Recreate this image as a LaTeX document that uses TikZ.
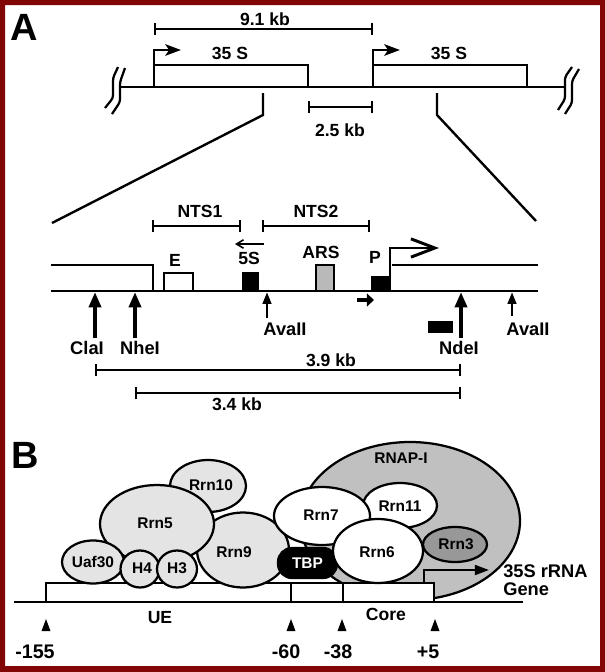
\documentclass[tikz,border=0pt]{standalone}
\usepackage{fontspec}
\setmainfont{Liberation Sans}
\usetikzlibrary{arrows.meta}
\definecolor{framered}{RGB}{130,6,6}
\definecolor{protlight}{RGB}{228,228,228}
\definecolor{polgray}{RGB}{192,192,192}
\definecolor{rrnthree}{RGB}{152,152,152}
\definecolor{arsgray}{RGB}{185,185,185}
\newdimen\pxu \pxu=0.025cm

\begin{document}
\begin{tikzpicture}[x=0.025cm,y=-0.025cm,
  gene/.style={line width=2.1pt},
  kbbar/.style={line width=1.6pt,{Bar[width=9pt]}-{Bar[width=9pt]}},
  lbl/.style={font=\bfseries\fontsize{12.5}{14}\selectfont,inner sep=0pt},
  sitelbl/.style={font=\bfseries\fontsize{13}{15}\selectfont,inner sep=0pt},
  bigsite/.style={line width=3pt,-{Triangle[length=11pt,width=8.5pt]}},
  smallsite/.style={line width=2pt,-{Triangle[length=8.5pt,width=6pt]}},
  prot/.style={draw,line width=1.6pt},
  plbl/.style={font=\bfseries\fontsize{11}{13}\selectfont,inner sep=0pt},
  poslbl/.style={font=\bfseries\fontsize{14}{16}\selectfont,inner sep=0pt},
  panel/.style={font=\bfseries\fontsize{27}{27}\selectfont,inner sep=0pt}]
\useasboundingbox (0,0) rectangle (605,672);
\fill[white] (0,0) rectangle (605,672);
% Frame
\fill[framered,even odd rule] (0,0) rectangle (605,672) (5,5) rectangle (600,666);

% ---- Panel A, rDNA repeats ----
\node[panel] (panA) at (24,27) {A};
\draw[kbbar] (154,29) -- (373,29);
\node[lbl] (ninekb) at (265,19) {9.1 kb};

\draw[gene] (120,87) -- (565,87);
\draw[gene] (154,87) -- (154,65) -- (308,65) -- (308,87);
\draw[gene] (373,87) -- (373,65) -- (527,65) -- (527,87);
\draw[gene,-{Stealth[length=11pt,width=8pt,inset=2.5pt]}] (154,65) -- (154,50) -- (181,50);
\draw[gene,-{Stealth[length=11pt,width=8pt,inset=2.5pt]}] (373,65) -- (373,50) -- (400,50);
\node[lbl] (tsa) at (230,53) {35 S};
\node[lbl] (tsb) at (449,53) {35 S};

% break marks
\begin{scope}[line width=1.6pt,rounded corners=2pt]
  \draw (105,108) -- (113,98) -- (113,78) -- (118,67);
  \draw (112,114) -- (120,102) -- (120,82) -- (125,68);
  \draw (558,110) -- (565,99) -- (565,77) -- (572,67);
  \draw (565,114) -- (572,103) -- (572,81) -- (579,69);
\end{scope}

\draw[kbbar] (308,107) -- (373,107);
\node[lbl] (twokb) at (340,130) {2.5 kb};

% zoom lines
\draw[line width=1.7pt] (263,93) -- (263,115) -- (52,223);
\draw[line width=1.7pt] (437,93) -- (437,115) -- (536,221);

% ---- Panel A, NTS map ----
\draw[kbbar] (152,226) -- (241,226);
\draw[kbbar] (262,226) -- (370,226);
\node[lbl] (ntsa) at (200,211) {NTS1};
\node[lbl] (ntsb) at (316,211) {NTS2};

\draw[gene] (51,265) -- (153,265) -- (153,291);
\draw[gene] (51,291) -- (538,291);
\draw[gene] (392,265) -- (538,265);
\draw[gene,-{Straight Barb[length=17pt,width=13pt]}] (390,291) -- (390,248) -- (439,248);

\draw[gene,fill=white] (164,291) rectangle (193,273);
\draw[gene,fill=black] (243,291) rectangle (258,273);
\draw[gene,fill=arsgray] (316,291) rectangle (334,265);
\draw[gene,fill=black] (372,291) rectangle (390,277);
\node[lbl] (elbl) at (175,260) {E};
\node[lbl] (fives) at (249,258) {5S};
\node[lbl] (ars) at (321,252) {ARS};
\node[lbl] (plbl) at (375,257) {P};
\draw[line width=1.1pt,-{Straight Barb[length=5pt,width=6pt]}] (264,244) -- (235,244);
\draw[line width=3.5pt,-{Triangle[length=5pt,width=9pt]}] (357,300) -- (374,300);

% restriction sites
\draw[bigsite] (95,338) -- (95,292);
\draw[bigsite] (135,338) -- (135,292);
\draw[smallsite] (267,318) -- (267,292);
\draw[bigsite] (461,338) -- (461,292);
\draw[smallsite] (512,316) -- (512,292);
\node[sitelbl] (cla) at (87,348) {ClaI};
\node[sitelbl] (nhe) at (140,348) {NheI};
\node[sitelbl] (avaa) at (285,329) {AvaII};
\node[sitelbl] (nde) at (459,348) {NdeI};
\node[sitelbl] (avab) at (528,329) {AvaII};
\fill (428,321) rectangle (453,333);

\draw[kbbar] (95,370) -- (461,370);
\draw[kbbar] (135,393) -- (461,393);
\node[lbl] (threenine) at (331,360) {3.9 kb};
\node[lbl] (threefour) at (237,404) {3.4 kb};

% ---- Panel B, promoter complex ----
\node[panel] (panB) at (25,455) {B};
\draw[prot,fill=polgray] (410,521) ellipse (110 and 79);
\node[plbl] (rnap) at (401,458) {RNAP-I};

\draw[gene,fill=white] (46,602) rectangle (291,583);
\draw[gene,fill=white] (291,602) rectangle (343,583);
\draw[gene,fill=white] (343,602) rectangle (434,583);
\draw[line width=1.8pt] (14,602) -- (523,602);

\draw[prot,fill=protlight] (208,486) ellipse (38 and 26);
\draw[prot,fill=protlight] (243,550) ellipse (46 and 37.5);
\draw[prot,fill=protlight] (157,524) ellipse (57 and 39);
\draw[prot,fill=protlight] (93,562) ellipse (31 and 21.5);
\draw[prot,fill=protlight] (140,569) ellipse (19.5 and 18.5);
\draw[prot,fill=protlight] (177,569) ellipse (20 and 18.5);
\draw[prot,fill=white] (400,505.5) ellipse (37 and 22.5);
\draw[prot,fill=white] (322,516) ellipse (48 and 29);
\node[prot,fill=black,text=white,rounded corners=10pt,minimum width=59\pxu,minimum height=30\pxu,
  font=\bfseries\fontsize{11}{13}\selectfont,inner sep=0pt] (tbp) at (307.5,563) {TBP};
\draw[prot,fill=white] (378,551) ellipse (45 and 32);
\draw[prot,fill=rrnthree] (455,544.5) ellipse (32 and 17.5);

\node[plbl] (rrnten) at (211,485) {Rrn10};
\node[plbl] (rrnnine) at (234,552) {Rrn9};
\node[plbl] (rrnfive) at (155,523) {Rrn5};
\node[plbl] (uaf) at (93,562) {Uaf30};
\node[plbl] (hfour) at (142,568) {H4};
\node[plbl] (hthree) at (177,568) {H3};
\node[plbl] (rrneleven) at (400,506) {Rrn11};
\node[plbl] (rrnseven) at (321,515) {Rrn7};
\node[plbl] (rrnsix) at (377,552) {Rrn6};
\node[plbl] (rrnthree) at (456,544) {Rrn3};

% start site
\draw[line width=1.6pt,-{Triangle[length=10pt,width=7pt]}] (424,583) -- (424,570) -- (489,570);
\node[font=\bfseries\fontsize{13}{15}\selectfont,inner sep=0pt,anchor=base west] (genea) at (503,577) {35S rRNA};
\node[font=\bfseries\fontsize{13}{15}\selectfont,inner sep=0pt,anchor=base west] (geneb) at (503,595) {Gene};

\node[lbl] (ue) at (160,618) {UE};
\node[lbl] (core) at (386,614) {Core};

% positions
\foreach \mx in {46,291,342,435}
  \fill (\mx,619) -- ++(-4.5,12) -- ++(9,0) -- cycle;
\foreach \xp/\txt/\nm in {35/-155/pa,286/-60/pb,338/-38/pc,428/+5/pd}
  \node[poslbl] (\nm) at (\xp,652) {\txt};
\end{tikzpicture}
\end{document}
